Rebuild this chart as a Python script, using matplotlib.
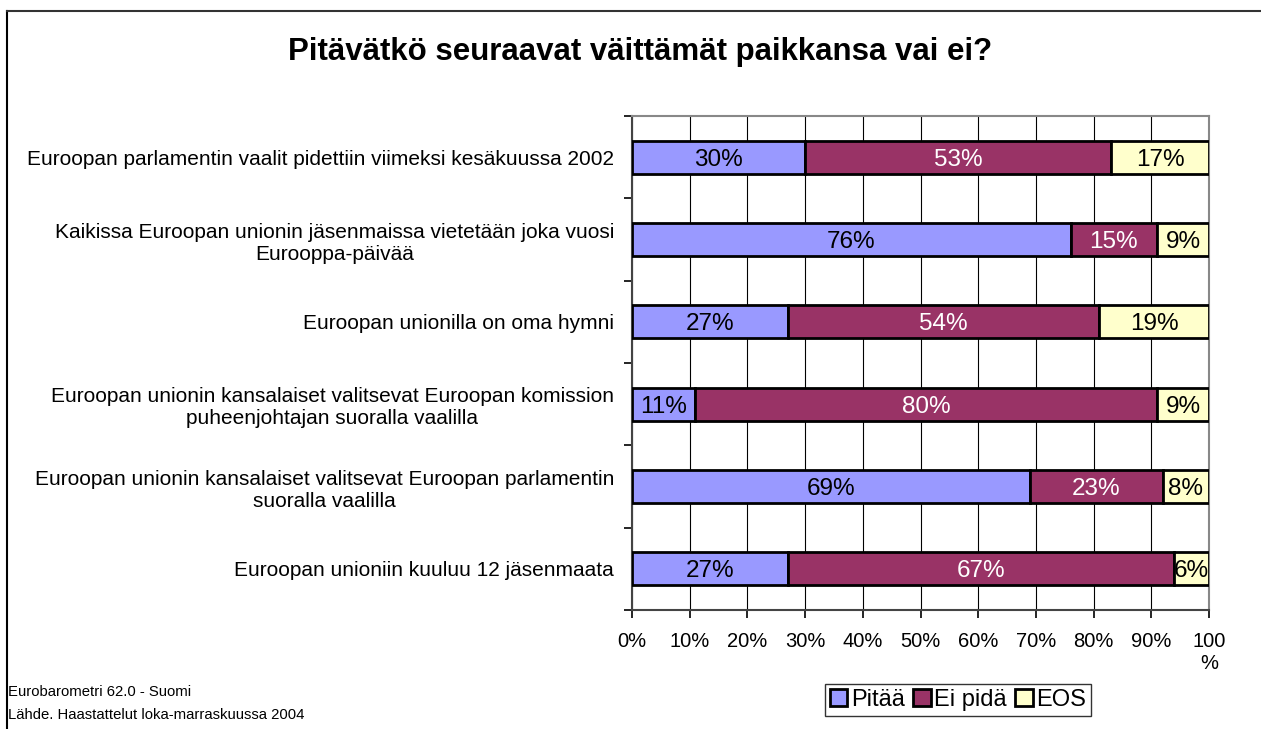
import matplotlib.pyplot as plt
from matplotlib.lines import Line2D
from matplotlib.patches import Patch

plt.rcParams['font.family'] = ['Liberation Sans', 'DejaVu Sans']

# Data (top to bottom as in the chart)
statements = [
    'Euroopan parlamentin vaalit pidettiin viimeksi kesäkuussa 2002',
    'Kaikissa Euroopan unionin jäsenmaissa vietetään joka vuosi\nEurooppa-päivää',
    'Euroopan unionilla on oma hymni',
    'Euroopan unionin kansalaiset valitsevat Euroopan komission\npuheenjohtajan suoralla vaalilla',
    'Euroopan unionin kansalaiset valitsevat Euroopan parlamentin\nsuoralla vaalilla',
    'Euroopan unioniin kuuluu 12 jäsenmaata',
]
pitaa = [30, 76, 27, 11, 69, 27]
ei_pida = [53, 15, 54, 80, 23, 67]
eos = [17, 9, 19, 9, 8, 6]
series_names = ['Pitää', 'Ei pidä', 'EOS']
colors = ['#9999FF', '#993366', '#FFFFCC']
text_colors = ['black', 'white', 'black']
x_ticks = [0, 10, 20, 30, 40, 50, 60, 70, 80, 90, 100]
x_labels = ['0%', '10%', '20%', '30%', '40%', '50%', '60%', '70%', '80%', '90%', '100\n%']

fig = plt.figure(figsize=(12.61, 7.29), dpi=100)
ax = fig.add_axes([632 / 1261, 1 - 610 / 729, (1209 - 632) / 1261, (610 - 116) / 729])

ypos = list(range(len(statements)))
left = [0] * len(statements)
for vals, name, col, tcol in zip([pitaa, ei_pida, eos], series_names, colors, text_colors):
    ax.barh(ypos, vals, left=left, height=0.4, color=col, edgecolor='black',
            linewidth=2, label=name, zorder=3)
    for y, v, l in zip(ypos, vals, left):
        ax.text(l + v / 2, y, f'{v}%', ha='center', va='center_baseline', fontsize=17.5,
                color=tcol, zorder=4)
    left = [a + b for a, b in zip(left, vals)]

ax.set_xlim(0, 100)
ax.set_ylim(len(statements) - 0.5, -0.5)
ax.set_xticks(x_ticks)
ax.set_xticklabels(x_labels, fontsize=14.5)
ax.tick_params(axis='x', direction='out', length=6, width=1.2, pad=10)

ax.set_yticks(ypos)
ax.set_yticklabels(statements, fontsize=15, ha='right', multialignment='center')
ax.tick_params(axis='y', length=0, pad=13)
ax.set_yticks([i + 0.5 for i in range(-1, len(statements))], minor=True)
ax.tick_params(axis='y', which='minor', direction='out', length=6, width=1.2)

ax.xaxis.grid(True, color='black', linewidth=0.8, zorder=0)
ax.set_axisbelow(True)
for s in ['top', 'right']:
    ax.spines[s].set_color('#888888')
    ax.spines[s].set_linewidth(1.5)
for s in ['left', 'bottom']:
    ax.spines[s].set_color('#444444')
    ax.spines[s].set_linewidth(1.5)

fig.text(640 / 1261, 1 - 52 / 729, 'Pitävätkö seuraavat väittämät paikkansa vai ei?',
         ha='center', va='center', fontsize=22.5, fontweight='bold')

fig.text(8 / 1261, 1 - 692 / 729, 'Eurobarometri 62.0 - Suomi', fontsize=10.7, va='center')
fig.text(8 / 1261, 1 - 715 / 729, 'Lähde. Haastattelut loka-marraskuussa 2004', fontsize=10.7, va='center')

handles = [Patch(facecolor=c, edgecolor='black', linewidth=2) for c in colors]
leg = fig.legend(handles, series_names, loc='center', bbox_to_anchor=(958 / 1261, 1 - 700 / 729),
                 ncol=3, fontsize=17, frameon=True, fancybox=False, edgecolor='black',
                 handlelength=0.75, handleheight=0.75, handletextpad=0.15, columnspacing=0.35,
                 borderpad=0.2, borderaxespad=0)
leg.get_frame().set_linewidth(1)

# outer frame (top and left edges)
fig.add_artist(Line2D([7 / 1261, 7 / 1261], [0, 1 - 11 / 729], color='black', linewidth=1.5))
fig.add_artist(Line2D([7 / 1261, 1], [1 - 11 / 729, 1 - 11 / 729], color='#333333', linewidth=1.5))

fig.savefig('out.png', dpi=100)
